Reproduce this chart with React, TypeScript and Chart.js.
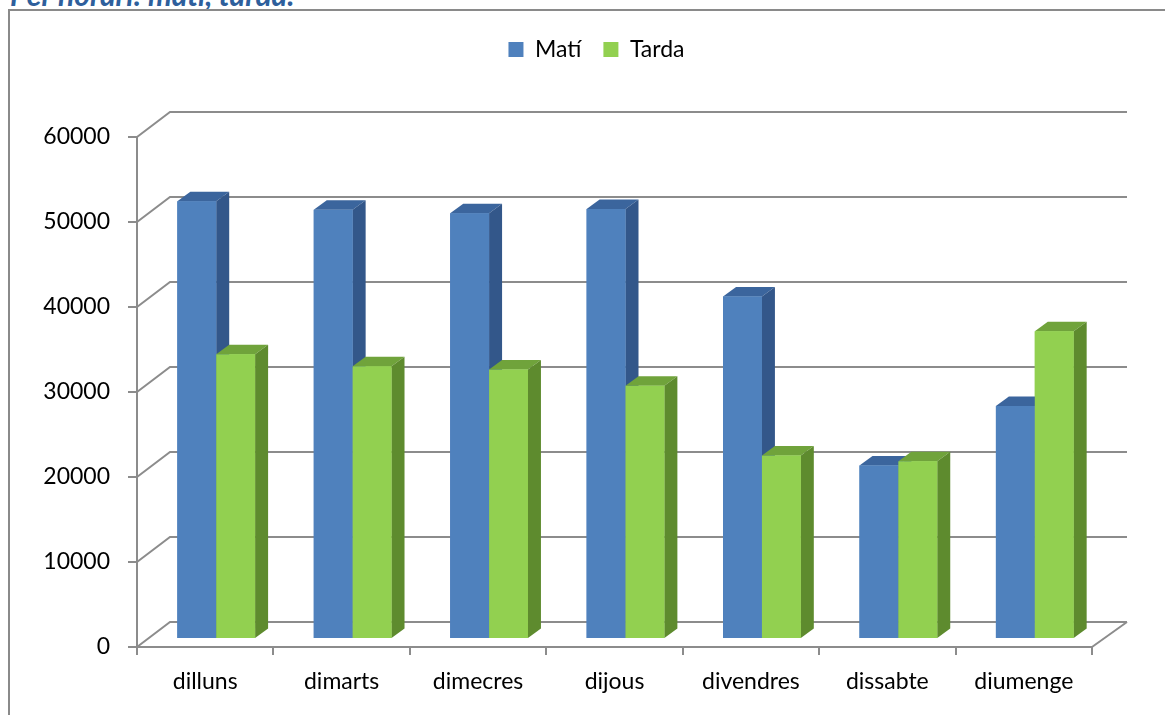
import React, { useEffect, useRef } from "react";
import { Chart, registerables, layouts } from "chart.js";

Chart.register(...registerables);

// ---- data ----
const categories = ["dilluns", "dimarts", "dimecres", "dijous", "divendres", "dissabte", "diumenge"];
const matiValues = [51500, 50500, 50100, 50600, 40300, 20400, 27400];
const tardaValues = [33500, 32100, 31700, 29800, 21600, 20900, 36200];
const seriesLabels = ["Matí", "Tarda"];
const yMin = 0;
const yMax = 60000;
const yStep = 10000;
const chartTitle = "Per horari: matí, tarda.";

// ---- styles ----
const FONT = "Lato, 'Open Sans', sans-serif";
const GRID = "#8c8c8c";
const FRONT = ["#4F81BD", "#92D050"];
const TOP = ["#3B659D", "#70A33B"];
const SIDE = ["#33578A", "#5E8B2E"];

// 3D geometry
const WALL_DX_L = 33;
const WALL_DX_R = 35;
const WALL_DY = -25;
const BAR_DX = 11;
const BAR_DY = -8;
const DEPTH_DX = 13;
const DEPTH_DY = -9.5;
const SPACER_TOP = 66;
const SPACER_RIGHT = 61;

function makeBox(position: string, size: number) {
  const horizontal = position === "top" || position === "bottom";
  return {
    position,
    weight: 10,
    fullSize: false,
    options: {},
    left: 0, top: 0, right: 0, bottom: 0, width: 0, height: 0,
    isHorizontal() { return horizontal; },
    update(maxWidth: number, maxHeight: number) {
      if (horizontal) { this.width = maxWidth; this.height = size; }
      else { this.width = size; this.height = maxHeight; }
    },
    draw() {},
  } as any;
}

const spacerPlugin: any = {
  id: "spacer",
  start(chart: any) {
    const boxes = [makeBox("top", SPACER_TOP), makeBox("right", SPACER_RIGHT)];
    chart.$spacerBoxes = boxes;
    boxes.forEach((b) => layouts.addBox(chart, b));
  },
  stop(chart: any) {
    (chart.$spacerBoxes || []).forEach((b: any) => layouts.removeBox(chart, b));
  },
};

const bars3dPlugin: any = {
  id: "bars3d",
  beforeDatasetsDraw(chart: any) {
    const { ctx, chartArea, scales } = chart;
    const y = scales.y;
    const left = chartArea.left;
    const right = chartArea.right;
    ctx.save();
    ctx.strokeStyle = GRID;
    ctx.lineWidth = 2;
    ctx.lineCap = "butt";
    for (let v = yMin; v <= yMax; v += yStep) {
      const py = y.getPixelForValue(v);
      ctx.beginPath();
      ctx.moveTo(left, py);
      ctx.lineTo(left + WALL_DX_L, py + WALL_DY);
      ctx.lineTo(right + WALL_DX_R, py + WALL_DY);
      ctx.stroke();
    }
    const pb = y.getPixelForValue(yMin);
    ctx.beginPath();
    ctx.moveTo(right, pb);
    ctx.lineTo(right + WALL_DX_R, pb + WALL_DY);
    ctx.stroke();
    ctx.restore();
    ctx.save();
    ctx.translate(BAR_DX, BAR_DY);
  },
  afterDatasetsDraw(chart: any) {
    const { ctx } = chart;
    const metas = chart.data.datasets.map((_: any, i: number) => chart.getDatasetMeta(i));
    const n = chart.data.labels.length;
    for (let i = 0; i < n; i++) {
      metas.forEach((meta: any, d: number) => {
        const el = meta.data[i];
        if (!el) return;
        const { x, y, base, width } = el.getProps(["x", "y", "base", "width"], true);
        const l = x - width / 2;
        const r = x + width / 2;
        ctx.beginPath();
        ctx.moveTo(l, y);
        ctx.lineTo(r, y);
        ctx.lineTo(r + DEPTH_DX, y + DEPTH_DY);
        ctx.lineTo(l + DEPTH_DX, y + DEPTH_DY);
        ctx.closePath();
        ctx.fillStyle = TOP[d];
        ctx.fill();
        ctx.beginPath();
        ctx.moveTo(r, y);
        ctx.lineTo(r + DEPTH_DX, y + DEPTH_DY);
        ctx.lineTo(r + DEPTH_DX, base + DEPTH_DY);
        ctx.lineTo(r, base);
        ctx.closePath();
        ctx.fillStyle = SIDE[d];
        ctx.fill();
        el.draw(ctx, chart.chartArea);
      });
    }
    ctx.restore();
  },
};

export default function App() {
  const ref = useRef<HTMLCanvasElement | null>(null);

  useEffect(() => {
    if (!ref.current) return;
    const chart = new Chart(ref.current, {
      type: "bar",
      data: {
        labels: categories,
        datasets: [
          { label: seriesLabels[0], data: matiValues, backgroundColor: FRONT[0], borderWidth: 0, clip: false as any },
          { label: seriesLabels[1], data: tardaValues, backgroundColor: FRONT[1], borderWidth: 0, clip: false as any },
        ],
      },
      options: {
        responsive: false,
        animation: false,
        devicePixelRatio: 1,
        datasets: { bar: { barPercentage: 1, categoryPercentage: 0.57 } },
        layout: { padding: { left: 40, top: 16, right: 12, bottom: 0 } },
        plugins: {
          legend: {
            display: true,
            position: "top",
            fullSize: true,
            labels: {
              boxWidth: 15,
              boxHeight: 15,
              padding: 22,
              color: "#000",
              font: { family: FONT, size: 23 },
            },
          },
          tooltip: { enabled: false },
          title: { display: false },
        },
        scales: {
          x: {
            offset: true,
            grid: {
              display: true,
              offset: true,
              drawOnChartArea: false,
              drawTicks: true,
              tickLength: 8,
              color: GRID,
              lineWidth: 2,
            },
            border: { display: true, color: GRID, width: 2 },
            ticks: {
              color: "#000",
              font: { family: FONT, size: 23 },
              padding: 13,
              maxRotation: 0,
              autoSkip: false,
            },
            afterFit(scale: any) { scale.height = 68; },
          },
          y: {
            min: yMin,
            max: yMax,
            grid: {
              display: true,
              drawOnChartArea: false,
              drawTicks: true,
              tickLength: 9,
              color: GRID,
              lineWidth: 2,
            },
            border: { display: true, color: GRID, width: 2 },
            ticks: {
              stepSize: yStep,
              color: "#000",
              font: { family: FONT, size: 23 },
              padding: 18,
              callback: (v: any) => String(v),
            },
            afterFit(scale: any) { scale.width = 97; },
          },
        },
      },
      plugins: [spacerPlugin, bars3dPlugin],
    });
    return () => chart.destroy();
  }, []);

  return (
    <div style={{ position: "fixed", left: 0, top: 0, width: 1165, height: 715, overflow: "hidden", background: "#fff" }}>
      <div
        style={{
          position: "absolute",
          left: 10,
          top: -24,
          fontFamily: FONT,
          fontWeight: 700,
          fontStyle: "italic",
          fontSize: 30,
          lineHeight: "36px",
          color: "#2E5F9C",
          whiteSpace: "nowrap",
        }}
      >
        {chartTitle}
      </div>
      <div
        style={{
          position: "absolute",
          left: 8,
          top: 9,
          width: 1300,
          height: 900,
          borderLeft: "2px solid #8a8a8a",
          borderTop: "2px solid #8a8a8a",
        }}
      />
      <canvas ref={ref} width={1165} height={715} style={{ position: "absolute", left: 0, top: 0, width: 1165, height: 715 }} />
    </div>
  );
}
